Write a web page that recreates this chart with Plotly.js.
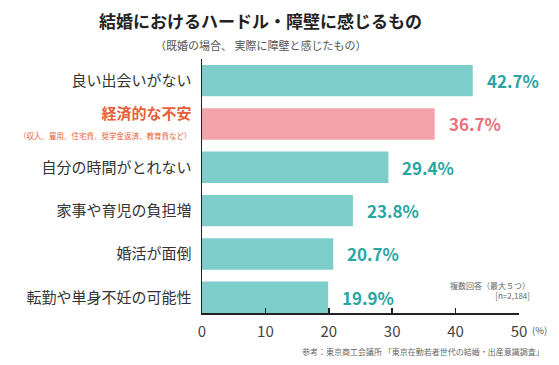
<!DOCTYPE html>
<html>
<head>
<meta charset="utf-8">
<script src="https://cdn.plot.ly/plotly-3.0.1.min.js"></script>
<style>html,body{margin:0;padding:0;background:#fff;}#chart{width:559px;height:365px;}</style>
</head>
<body>
<div id="chart"></div>
<script>
const categories = ["良い出会いがない", "経済的な不安", "自分の時間がとれない", "家事や育児の負担増", "婚活が面倒", "転勤や単身不妊の可能性"];
const values = [42.7, 36.7, 29.4, 23.8, 20.7, 19.9];
const highlight = [false, true, false, false, false, false];
const subNote = "（収入、雇用、住宅費、奨学金返済、教育費など）";
const xTicks = [0, 10, 20, 30, 40, 50];
const titleText = "結婚におけるハードル・障壁に感じるもの";
const subtitleText = "（既婚の場合、 実際に障壁と感じたもの）";

const FONT = '"Noto Sans CJK JP", "Noto Sans", sans-serif';
const TEAL = '#7dcdcb', TEAL_TXT = '#2aa5a2';
const PINK = '#f5a3ab', PINK_TXT = '#ee6f7b';
const ORANGE = '#e85f3a';

const tickText = categories.map((c, i) => highlight[i]
  ? `<b><span style="color:${ORANGE}">${c}</span></b><br><span style="font-size:7.5px;color:${ORANGE}">${subNote}</span>`
  : c);

const trace = {
  type: 'bar', orientation: 'h',
  x: values, y: categories.map((c, i) => i),
  marker: {color: highlight.map(h => h ? PINK : TEAL)},
  width: 0.725, hoverinfo: 'none'
};

const annotations = values.map((v, i) => ({
  x: v, y: i, xref: 'x', yref: 'y', xanchor: 'left', yanchor: 'middle', xshift: 12,
  text: `<b>${v.toFixed(1)}%</b>`, showarrow: false,
  font: {family: FONT, size: 17, color: highlight[i] ? PINK_TXT : TEAL_TXT}
}));

annotations.push(
  {xref: 'paper', yref: 'paper', x: 0.185, y: 1.153, xanchor: 'center', yanchor: 'middle', showarrow: false,
   text: `<b>${titleText}</b>`, font: {family: FONT, size: 17, color: '#222'}},
  {xref: 'paper', yref: 'paper', x: 0.185, y: 1.057, xanchor: 'center', yanchor: 'middle', showarrow: false,
   text: subtitleText, font: {family: FONT, size: 11, color: '#555'}},
  {xref: 'paper', yref: 'paper', x: 1.042, y: 0.088, xanchor: 'right', yanchor: 'middle', showarrow: false, align: 'right',
   text: '複数回答（最大５つ）<br>[n=2,184]', font: {family: FONT, size: 8, color: '#666'}},
  {xref: 'paper', yref: 'paper', x: 1.035, y: -0.068, xanchor: 'left', yanchor: 'middle', showarrow: false,
   text: '(%)', font: {family: FONT, size: 9.5, color: '#555'}},
  {xref: 'paper', yref: 'paper', x: 1.085, y: -0.151, xanchor: 'right', yanchor: 'middle', showarrow: false,
   text: '参考：東京商工会議所 「東京在勤若者世代の結婚・出産意識調査」', font: {family: FONT, size: 8, color: '#666'}}
);

const layout = {
  width: 559, height: 365,
  margin: {l: 202, r: 40, t: 59, b: 51.5, pad: 0},
  paper_bgcolor: '#fff', plot_bgcolor: '#fff',
  font: {family: FONT, color: '#333'},
  showlegend: false,
  xaxis: {
    range: [0, 50], tickvals: xTicks, ticktext: xTicks.map(String),
    showgrid: false, zeroline: false, showline: true, linecolor: '#222', linewidth: 1.5,
    ticks: 'inside', ticklen: 5, tickwidth: 1.5, tickcolor: '#222', ticklabelstandoff: 4,
    tickfont: {family: FONT, size: 15, color: '#444'}, fixedrange: true
  },
  yaxis: {
    range: [5.3625, -0.5], tickvals: categories.map((c, i) => i), ticktext: tickText,
    showgrid: false, zeroline: false, showline: true, linecolor: '#222', linewidth: 1.5,
    ticks: '', ticklabelstandoff: 6,
    tickfont: {family: FONT, size: 15, color: '#333'}, fixedrange: true
  },
  annotations: annotations
};

Plotly.newPlot('chart', [trace], layout, {displayModeBar: false, staticPlot: true});
</script>
</body>
</html>
